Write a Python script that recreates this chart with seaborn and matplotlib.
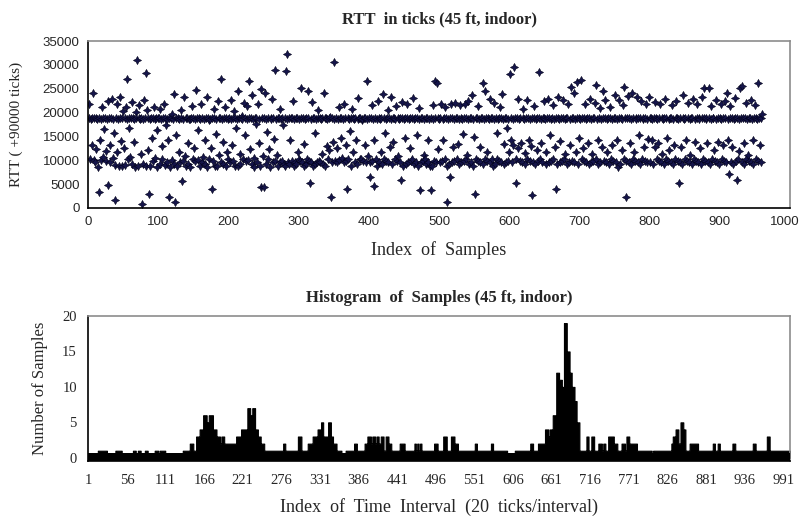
import numpy as np
import pandas as pd
import matplotlib
matplotlib.use("Agg")
import matplotlib.pyplot as plt
import matplotlib.transforms as mtransforms
import seaborn as sns

# ---------------- data ----------------
# RTT samples in hundreds of ticks (value * 100 = ticks above 90000)
rtt_hundreds = [
    188, 218, 103, 187, 133, 189, 242, 101, 188, 96,
    189, 123, 187, 86, 34, 188, 143, 101, 187, 212,
    106, 188, 165, 189, 119, 99, 187, 225, 49, 188,
    131, 96, 189, 228, 104, 187, 157, 91, 16, 188,
    219, 118, 187, 89, 233, 189, 140, 88, 188, 204,
    126, 188, 90, 212, 271, 187, 103, 168, 188, 107,
    189, 223, 92, 188, 139, 186, 86, 201, 189, 311,
    88, 188, 215, 187, 114, 189, 9, 92, 187, 226,
    188, 282, 89, 206, 189, 121, 30, 187, 88, 188,
    147, 188, 99, 211, 187, 105, 189, 163, 86, 188,
    188, 92, 207, 187, 129, 103, 189, 219, 91, 188,
    174, 187, 96, 142, 189, 23, 86, 188, 196, 101,
    187, 238, 92, 13, 188, 152, 89, 189, 117, 187,
    96, 205, 188, 56, 99, 187, 232, 110, 189, 88,
    188, 137, 92, 187, 186, 86, 189, 214, 103, 188,
    125, 187, 99, 247, 188, 101, 164, 189, 89, 187,
    219, 96, 188, 107, 187, 92, 143, 189, 233, 86,
    188, 184, 103, 187, 126, 39, 189, 99, 207, 188,
    88, 155, 187, 89, 224, 188, 111, 189, 96, 271,
    187, 139, 92, 188, 212, 89, 189, 118, 187, 103,
    188, 96, 226, 187, 131, 99, 189, 203, 88, 188,
    168, 187, 89, 246, 188, 114, 92, 189, 192, 187,
    103, 221, 188, 152, 99, 187, 213, 101, 267, 188,
    123, 189, 92, 236, 187, 104, 86, 188, 177, 189,
    96, 218, 187, 137, 89, 250, 45, 188, 108, 44,
    189, 241, 92, 187, 159, 103, 188, 123, 86, 189,
    187, 229, 96, 188, 145, 99, 290, 187, 111, 189,
    88, 188, 207, 96, 187, 99, 188, 173, 92, 189,
    89, 287, 187, 323, 96, 188, 92, 142, 189, 99,
    188, 225, 89, 187, 96, 189, 92, 188, 118, 103,
    187, 99, 189, 251, 96, 188, 89, 134, 187, 92,
    189, 103, 188, 245, 99, 53, 187, 96, 223, 188,
    89, 189, 157, 92, 187, 96, 188, 206, 99, 189,
    96, 187, 113, 188, 92, 240, 189, 89, 188, 130,
    187, 103, 121, 188, 191, 23, 96, 189, 138, 187,
    305, 99, 188, 125, 96, 187, 212, 101, 188, 147,
    189, 104, 187, 219, 96, 188, 133, 99, 39, 189,
    103, 187, 161, 188, 89, 208, 189, 117, 187, 96,
    188, 142, 92, 187, 230, 189, 102, 188, 103, 185,
    187, 99, 188, 132, 189, 96, 266, 187, 110, 188,
    96, 64, 188, 215, 99, 187, 143, 46, 189, 103,
    187, 89, 224, 188, 96, 187, 118, 189, 92, 238,
    188, 103, 157, 187, 99, 189, 205, 96, 188, 127,
    187, 232, 92, 188, 138, 189, 103, 187, 213, 99,
    188, 108, 187, 96, 189, 59, 222, 188, 89, 187,
    147, 189, 92, 188, 219, 96, 187, 125, 189, 99,
    188, 103, 230, 187, 92, 189, 96, 188, 152, 89,
    187, 209, 38, 189, 96, 188, 99, 187, 112, 103,
    189, 92, 188, 143, 96, 187, 89, 38, 188, 88,
    187, 215, 99, 189, 266, 96, 261, 188, 123, 187,
    96, 188, 217, 99, 187, 142, 189, 103, 212, 188,
    89, 13, 187, 92, 66, 189, 218, 96, 188, 127,
    187, 99, 221, 188, 103, 189, 134, 92, 187, 216,
    188, 96, 187, 155, 99, 189, 219, 103, 188, 111,
    187, 224, 92, 189, 96, 188, 236, 89, 187, 148,
    30, 188, 103, 189, 214, 99, 187, 127, 96, 188,
    189, 263, 92, 187, 245, 103, 188, 118, 99, 189,
    187, 228, 96, 188, 102, 189, 89, 221, 187, 92,
    188, 103, 158, 187, 99, 189, 212, 96, 188, 239,
    187, 92, 135, 188, 96, 189, 167, 99, 187, 118,
    280, 188, 143, 96, 187, 131, 296, 189, 53, 103,
    188, 228, 125, 187, 99, 189, 137, 96, 188, 208,
    187, 116, 92, 189, 227, 103, 188, 142, 99, 187,
    129, 189, 27, 96, 188, 213, 92, 187, 121, 189,
    99, 188, 284, 103, 187, 136, 96, 189, 224, 188,
    187, 92, 117, 188, 229, 96, 189, 152, 99, 187,
    188, 216, 103, 187, 127, 39, 189, 92, 188, 233,
    187, 96, 141, 189, 99, 188, 226, 103, 187, 113,
    189, 92, 188, 219, 96, 187, 132, 253, 189, 99,
    188, 241, 96, 187, 118, 189, 264, 92, 188, 146,
    187, 268, 103, 189, 125, 99, 188, 218, 96, 187,
    189, 136, 92, 188, 229, 96, 187, 114, 189, 99,
    188, 221, 103, 257, 187, 143, 92, 189, 209, 96,
    187, 127, 245, 188, 99, 189, 226, 96, 187, 118,
    188, 92, 212, 189, 103, 187, 133, 99, 188, 236,
    189, 96, 142, 187, 86, 188, 227, 92, 189, 121,
    187, 216, 103, 254, 188, 99, 23, 189, 235, 96,
    188, 137, 92, 187, 241, 103, 189, 118, 99, 188,
    187, 233, 96, 189, 152, 92, 188, 224, 103, 187,
    189, 128, 99, 188, 219, 96, 187, 145, 233, 189,
    96, 188, 142, 187, 92, 189, 127, 223, 188, 103,
    187, 136, 99, 189, 219, 96, 188, 113, 187, 92,
    189, 228, 103, 188, 146, 99, 187, 121, 189, 96,
    188, 215, 92, 187, 133, 103, 189, 224, 188, 99,
    187, 53, 96, 189, 127, 92, 188, 236, 187, 103,
    189, 143, 99, 188, 221, 96, 187, 112, 189, 92,
    188, 229, 103, 187, 138, 99, 189, 217, 96, 188,
    187, 125, 92, 189, 232, 103, 188, 252, 99, 187,
    189, 136, 96, 188, 252, 92, 187, 214, 103, 189,
    188, 121, 99, 187, 227, 96, 189, 139, 92, 188,
    187, 218, 103, 189, 132, 99, 188, 224, 96, 240,
    187, 142, 71, 188, 214, 96, 189, 127, 92, 187,
    188, 231, 99, 189, 58, 103, 187, 119, 252, 188,
    96, 255, 189, 136, 92, 188, 221, 103, 187, 112,
    189, 99, 188, 226, 96, 187, 143, 92, 189, 215,
    188, 103, 187, 261, 99, 189, 132, 96, 188, 196,
]

# Histogram: run-length segments (first interval of a run, count in that run)
hist_starts = [1, 15, 28, 40, 49, 65, 69, 72, 76, 82, 86, 96, 101, 103, 111, 136, 146, 151,
               155, 160, 165, 170, 173, 179, 184, 189, 191, 195, 212, 219, 228, 232, 235, 239,
               243, 247, 252, 279, 282, 300, 305, 314, 321, 328, 333, 336, 343, 347, 350, 355,
               362, 368, 380, 384, 395, 399, 404, 406, 410, 412, 415, 418, 422, 425, 429, 433,
               445, 452, 466, 468, 470, 472, 474, 476, 494, 499, 507, 512, 518, 523, 528, 552,
               555, 575, 578, 598, 609, 631, 635, 642, 652, 657, 659, 663, 668, 672, 676, 679,
               683, 687, 690, 694, 697, 701, 711, 714, 718, 722, 728, 733, 735, 738, 742, 750,
               755, 761, 766, 768, 772, 783, 804, 806, 832, 834, 838, 842, 845, 849, 852, 858,
               870, 891, 894, 898, 901, 919, 923, 948, 952, 968, 972]
hist_counts = [0, 1, 0, 1, 0, 1, 0, 1, 0, 1, 0, 1, 0, 1, 0, 1, 2, 1,
               3, 4, 6, 5, 6, 4, 3, 2, 3, 2, 3, 4, 7, 6, 7, 4,
               3, 2, 1, 2, 1, 3, 1, 2, 3, 4, 5, 3, 5, 3, 2, 1,
               0, 1, 2, 1, 2, 3, 2, 3, 2, 3, 2, 3, 1, 3, 2, 1,
               2, 1, 2, 1, 2, 1, 2, 1, 2, 1, 3, 1, 3, 2, 1, 2,
               1, 2, 1, 0, 1, 2, 1, 2, 4, 3, 4, 6, 12, 11, 10, 19,
               15, 12, 10, 8, 5, 1, 3, 1, 3, 1, 2, 1, 2, 1, 3, 2,
               1, 2, 1, 3, 2, 1, 0, 1, 2, 3, 4, 2, 5, 4, 1, 2,
               1, 2, 1, 2, 1, 2, 1, 2, 1, 3, 1]
n_intervals = 1000
hist_tick_labels = [1, 56, 111, 166, 221, 276, 331, 386, 441, 496, 551, 606,
                    661, 716, 771, 826, 881, 936, 991]

top_title = "RTT  in ticks (45 ft, indoor)"
top_ylabel = "RTT ( +90000 ticks)"
top_xlabel = "Index  of  Samples"
bot_title = "Histogram  of  Samples (45 ft, indoor)"
bot_ylabel = "Number of Samples"
bot_xlabel = "Index  of  Time  Interval  (20  ticks/interval)"

# ---------------- build frames ----------------
rtt = np.array(rtt_hundreds) * 100
df_rtt = pd.DataFrame({"idx": np.arange(1, len(rtt) + 1), "rtt": rtt})

ends = hist_starts[1:] + [n_intervals + 1]
lengths = [e - s for s, e in zip(hist_starts, ends)]
counts = np.repeat(hist_counts, lengths)
df_hist = pd.DataFrame({"interval": np.arange(1, n_intervals + 1), "count": counts})

# ---------------- style ----------------
sns.set_style("white")
plt.rcParams["font.family"] = ["Liberation Serif", "DejaVu Serif"]
SERIF = "Liberation Serif"
SANS = "Liberation Sans"
GRAY = "#8c8c8c"

fig = plt.figure(figsize=(8.02, 5.17), dpi=100)
W, H = 802.0, 517.0
ax1 = fig.add_axes([88 / W, 1 - 208 / H, 702 / W, 167 / H])
ax2 = fig.add_axes([88 / W, 1 - 461 / H, 702 / W, 145 / H])

# ---------------- top scatter ----------------
sns.scatterplot(data=df_rtt, x="idx", y="rtt", ax=ax1, marker=(4, 1, 0), s=34,
                color="#15154a", edgecolor="#000018", linewidth=0.4, legend=False)
ax1.set_xlim(0, 1000)
ax1.set_ylim(0, 35000)
ax1.set_xticks(np.arange(0, 1001, 100))
ax1.set_yticks(np.arange(0, 35001, 5000))
ax1.tick_params(axis="both", which="major", direction="inout", length=6, width=1,
                color="black", labelsize=9.5, pad=3)
for lab in ax1.get_xticklabels() + ax1.get_yticklabels():
    lab.set_fontfamily(SANS)
last = ax1.get_xticklabels()[-1]
last.set_transform(last.get_transform() +
                   mtransforms.ScaledTranslation(-5 / 100, 0, fig.dpi_scale_trans))
ax1.set_title(top_title, fontfamily=SERIF, fontweight="bold", fontsize=12, pad=13)
ax1.set_xlabel(top_xlabel, fontfamily=SERIF, fontsize=13)
ax1.xaxis.set_label_coords(0.5, -0.25)
ax1.xaxis.label.set_va("center")
ax1.set_ylabel(top_ylabel, fontfamily=SERIF, fontsize=11)
ax1.yaxis.set_label_coords(-0.102, 0.5)
ax1.yaxis.label.set_va("center")

# ---------------- bottom histogram ----------------
sns.histplot(data=df_hist, x="interval", weights="count", discrete=True,
             element="step", fill=True, color="black", alpha=1, linewidth=0.8,
             edgecolor="black", ax=ax2)
ax2.axhspan(-0.45, 0.65, color="black", zorder=3, lw=0)
ax2.set_xlim(0.5, n_intervals + 0.5)
ax2.set_ylim(-0.45, 20)
ax2.set_xticks(hist_tick_labels)
ax2.set_xticklabels([str(v) for v in hist_tick_labels])
ax2.set_yticks([0, 5, 10, 15, 20])
ax2.tick_params(axis="x", length=0, labelsize=10.5, pad=9)
ax2.tick_params(axis="y", direction="out", length=5, width=1, color="black",
                labelsize=10.5, pad=3)
for lab in ax2.get_xticklabels() + ax2.get_yticklabels():
    lab.set_fontfamily(SERIF)
ax2.set_title(bot_title, fontfamily=SERIF, fontweight="bold", fontsize=12, pad=10)
ax2.set_xlabel(bot_xlabel, fontfamily=SERIF, fontsize=13)
ax2.xaxis.set_label_coords(0.5, -0.317)
ax2.xaxis.label.set_va("center")
ax2.set_ylabel(bot_ylabel, fontfamily=SERIF, fontsize=12)
ax2.yaxis.set_label_coords(-0.068, 0.5)
ax2.yaxis.label.set_va("center")

# ---------------- spines ----------------
for ax in (ax1, ax2):
    for side in ("top", "right"):
        ax.spines[side].set_color(GRAY)
        ax.spines[side].set_linewidth(1.2)
    for side in ("left", "bottom"):
        ax.spines[side].set_color("black")
        ax.spines[side].set_linewidth(1.2)
    ax.grid(False)
    ax.set_facecolor("white")

fig.savefig("out.png", dpi=100, facecolor="white")
